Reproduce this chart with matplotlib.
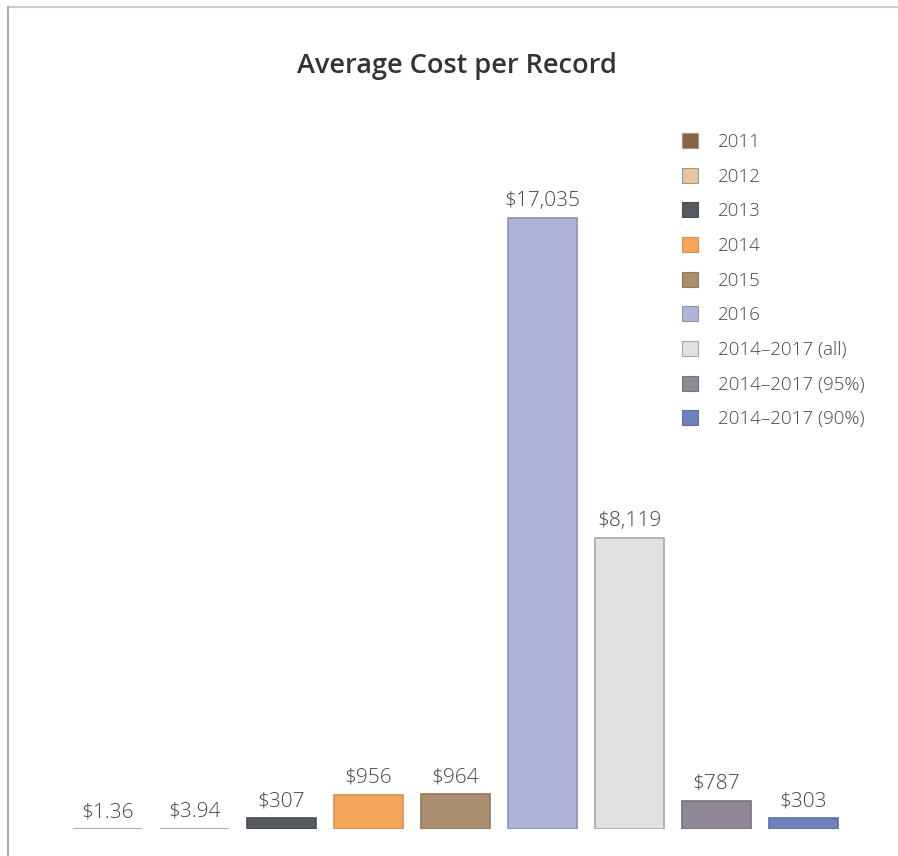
import matplotlib
matplotlib.use("Agg")
import matplotlib.pyplot as plt
from matplotlib.patches import Patch
from matplotlib.lines import Line2D

# Data
categories = ["2011", "2012", "2013", "2014", "2015", "2016",
              "2014\u20132017 (all)", "2014\u20132017 (95%)", "2014\u20132017 (90%)"]
values = [1.36, 3.94, 307, 956, 964, 17035, 8119, 787, 303]
value_labels = ["$1.36", "$3.94", "$307", "$956", "$964", "$17,035", "$8,119", "$787", "$303"]
colors = ["#8B6340", "#EAC5A0", "#545A60", "#F5A65B", "#AA9070",
          "#AEB5D9", "#E0E1E0", "#908896", "#6E82BC"]
edge_colors = ["#9a9a9a", "#9a9a9a", "#4a4f55", "#d8904f", "#8f7858",
               "#8c93b8", "#a8a8a8", "#76707c", "#5d6fa5"]

plt.rcParams['font.family'] = ['Open Sans', 'DejaVu Sans']
text_color = "#454545"

W, H = 898, 856
fig = plt.figure(figsize=(W / 100, H / 100), dpi=100)

# Axes: full width, baseline 27 px above the bottom edge
ax = fig.add_axes([0, 27 / H, 1, 700 / H])
spacing = 87.0
x0 = 107.5
ax.set_xlim(-x0 / spacing, (W - x0) / spacing)
ax.set_ylim(0, 17035 * 700 / 611)
ax.axis("off")

xs = list(range(len(values)))
bars = ax.bar(xs, values, width=69 / spacing, color=colors,
              edgecolor=edge_colors, linewidth=1.2)

for x, v, lab in zip(xs, values, value_labels):
    ax.annotate(lab, (x, v), xytext=(0, 5), textcoords="offset points",
                ha="center", va="bottom", fontsize=15, color=text_color,
                fontweight="light")

# Title
fig.text(457 / W, 1 - 66 / H, "Average Cost per Record", ha="center", va="center",
         fontsize=19.5, fontweight="semibold", color="#333333")

# Legend
handles = [Patch(facecolor=c, edgecolor=e, linewidth=0.8) for c, e in zip(colors, edge_colors)]
leg = fig.legend(handles, categories, loc="upper left",
                 bbox_to_anchor=(665 / W, 1 - 116 / H), frameon=False,
                 fontsize=13.5, handlelength=0.85, handleheight=0.85,
                 handletextpad=1.05, labelspacing=0.89)
for t in leg.get_texts():
    t.set_color(text_color)
    t.set_fontweight("light")

# Frame lines along the top and left edges
fig.add_artist(Line2D([8 / W, 1], [1 - 7 / H, 1 - 7 / H], color="#cfcfcf", lw=1.5,
                      transform=fig.transFigure))
fig.add_artist(Line2D([8 / W, 8 / W], [0, 1 - 7 / H], color="#a0a0a0", lw=1.2,
                      transform=fig.transFigure))

fig.savefig("out.png", dpi=100, facecolor="white")
